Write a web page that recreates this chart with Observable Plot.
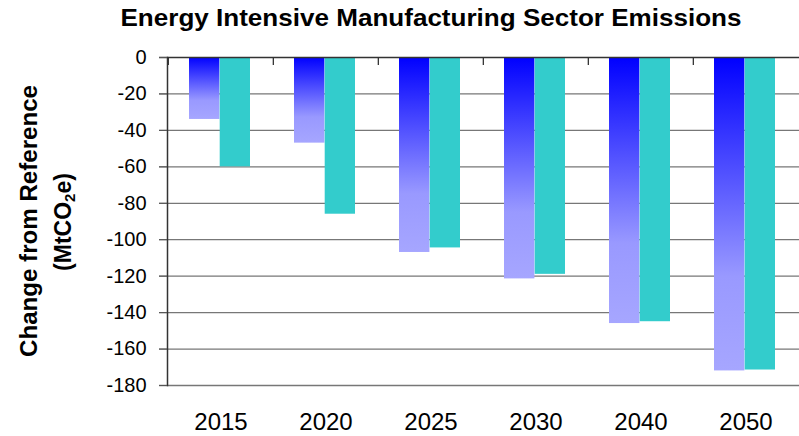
<!DOCTYPE html>
<html>
<head>
<meta charset="utf-8">
<script src="https://cdn.jsdelivr.net/npm/d3@7"></script>
<script src="https://cdn.jsdelivr.net/npm/@observablehq/plot@0.6"></script>
<style>
  html, body { margin: 0; padding: 0; background: #fff; }
  #wrap { position: relative; width: 799px; height: 436px; font-family: Arial, "Liberation Sans", sans-serif; }
  #overlay { position: absolute; left: 0; top: 0; pointer-events: none; }
  #chart { position: absolute; left: 0; top: 0; }
</style>
</head>
<body>
<div id="wrap">
  <div id="chart"></div>
  <svg id="overlay" width="799" height="436">
    <defs>
      <linearGradient id="blueGrad" x1="0" y1="0" x2="0" y2="1">
        <stop offset="0" stop-color="#0000ff"/>
        <stop offset="0.7" stop-color="#9999ff"/>
        <stop offset="1" stop-color="#a6a6ff"/>
      </linearGradient>
    </defs>
    <text x="431" y="26" text-anchor="middle" font-family="Arial, 'Liberation Sans', sans-serif" font-weight="bold" font-size="24" textLength="621" lengthAdjust="spacingAndGlyphs" fill="#000">Energy Intensive Manufacturing Sector Emissions</text>
    <g transform="translate(37,221) rotate(-90)">
      <text x="0" y="0" text-anchor="middle" font-family="Arial, 'Liberation Sans', sans-serif" font-weight="bold" font-size="23" textLength="272" lengthAdjust="spacingAndGlyphs" fill="#000">Change from Reference</text>
    </g>
    <g transform="translate(71,222) rotate(-90)">
      <text x="0" y="0" text-anchor="middle" font-family="Arial, 'Liberation Sans', sans-serif" font-weight="bold" font-size="23" fill="#000">(MtCO<tspan font-size="15" dy="4">2</tspan><tspan dy="-4">e)</tspan></text>
    </g>
  </svg>
</div>
<script>
const years = ["2015", "2020", "2025", "2030", "2040", "2050"];
const seriesA = [-34, -47, -107, -121.5, -146, -172];   // gradient blue bars
const seriesB = [-60, -86, -104.5, -119, -145, -171.5]; // teal bars
const yTicks = [0, -20, -40, -60, -80, -100, -120, -140, -160, -180];

const dataA = years.map((y, i) => ({year: y, value: seriesA[i]}));
const dataB = years.map((y, i) => ({year: y, value: seriesB[i]}));

const W = 799, H = 436, ML = 167, MR = 0;
const step = (W - ML - MR) / years.length;

const chart = Plot.plot({
  width: W,
  height: H,
  marginLeft: ML,
  marginRight: MR,
  marginTop: 57,
  marginBottom: 51,
  style: {fontFamily: "Arial, 'Liberation Sans', sans-serif", color: "#000", background: "transparent", overflow: "visible"},
  x: {domain: years, paddingInner: 0, paddingOuter: 0},
  y: {domain: [-180, 0]},
  marks: [
    Plot.ruleY(yTicks.filter(d => d !== 0), {y: d => d, stroke: "#777", strokeWidth: 1.3, strokeOpacity: 1, insetLeft: -8}),
    Plot.barY(dataA, {x: "year", y: "value", fill: "url(#blueGrad)", insetLeft: 21, insetRight: 53.6}),
    Plot.barY(dataB, {x: "year", y: "value", fill: "#33cccc", insetLeft: 51.7, insetRight: 23}),
    Plot.ruleY([0], {stroke: "#333", strokeWidth: 1.5, insetLeft: -8}),
    Plot.ruleX(years, {x: d => d, y1: 0, y2: -4.4, dx: -step / 2, stroke: "#333", strokeWidth: 1.3}),
    Plot.frame({anchor: "left", stroke: "#333", strokeWidth: 1.5}),
    Plot.axisY({ticks: yTicks, tickFormat: d => String(d), tickSize: 8, tickPadding: 13, fontSize: 20, stroke: "#555", label: null}),
    Plot.axisX({anchor: "bottom", tickSize: 0, tickPadding: 27, fontSize: 24, label: null})
  ]
});
document.getElementById("chart").appendChild(chart);
</script>
</body>
</html>
